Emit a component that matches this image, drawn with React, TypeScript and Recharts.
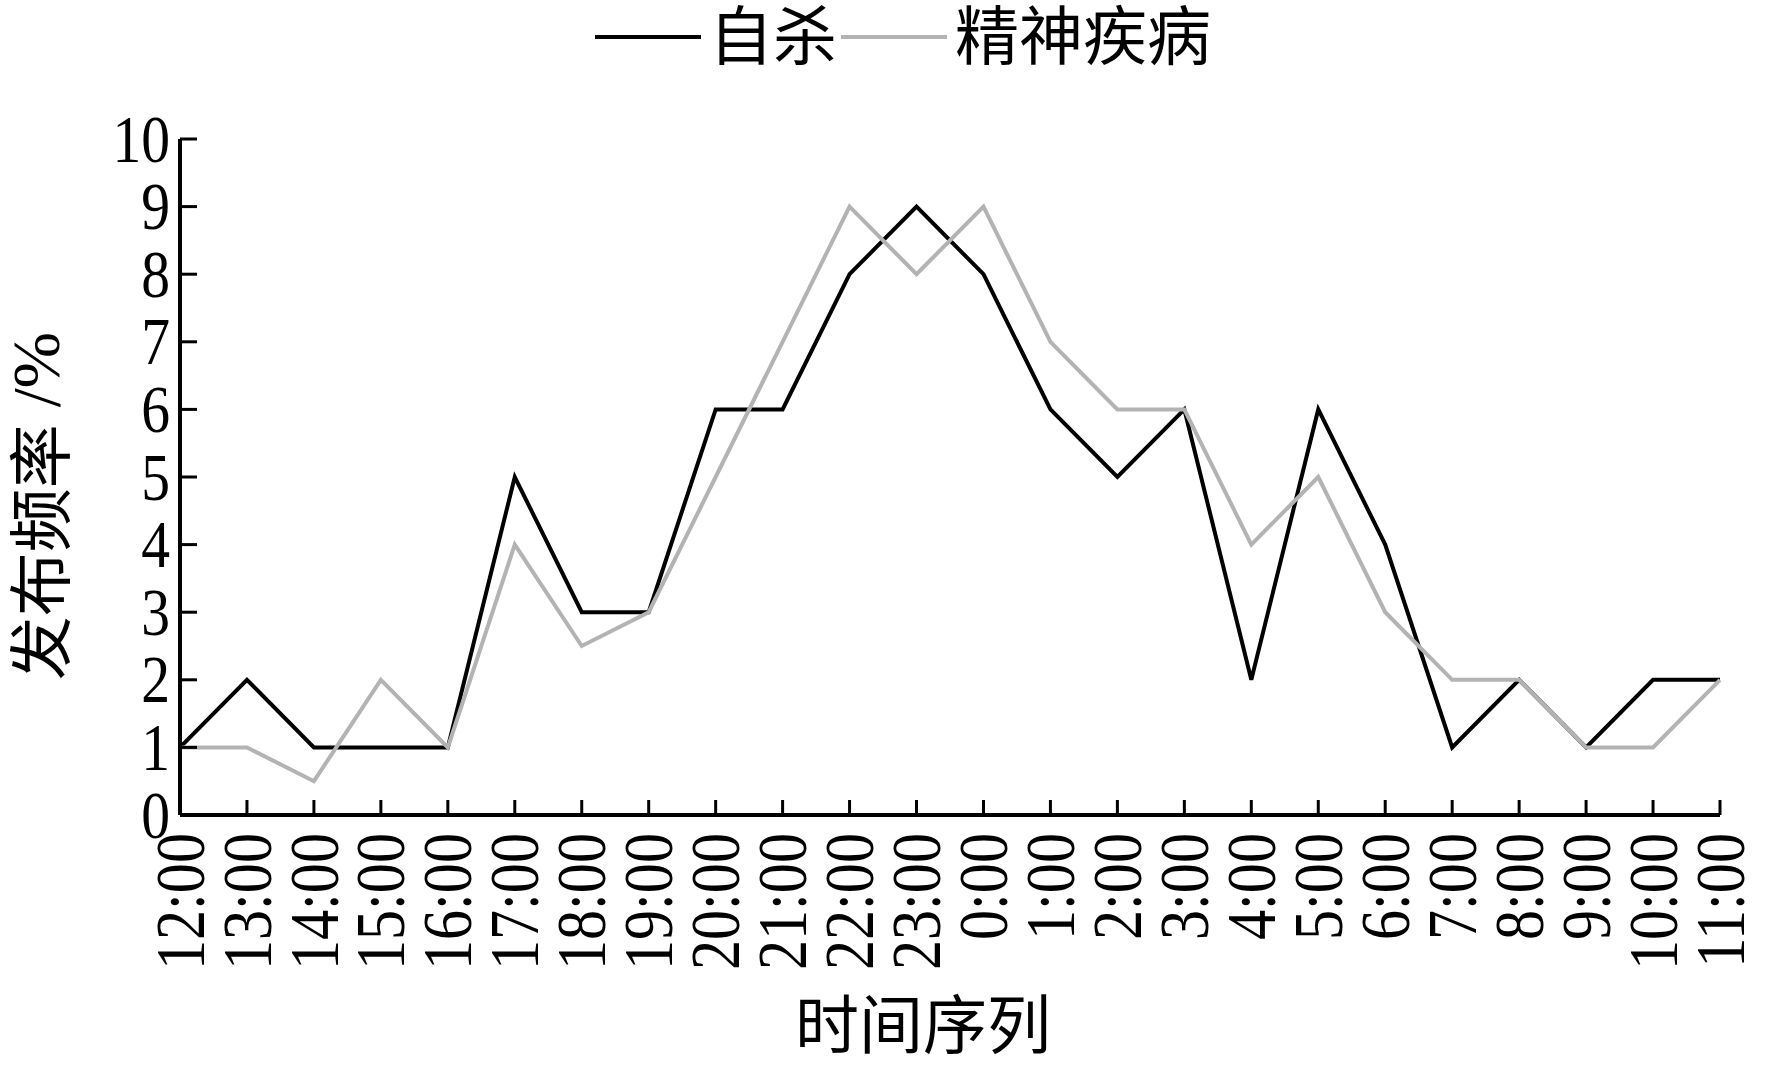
import React from "react";
import { LineChart, Line, XAxis, YAxis, Legend, Label } from "recharts";

// hourly posting frequency (%), 12:00 through 11:00 next day
const hours = [
  "12:00", "13:00", "14:00", "15:00", "16:00", "17:00", "18:00", "19:00",
  "20:00", "21:00", "22:00", "23:00", "0:00", "1:00", "2:00", "3:00",
  "4:00", "5:00", "6:00", "7:00", "8:00", "9:00", "10:00", "11:00",
];
const suicide = [1, 2, 1, 1, 1, 5, 3, 3, 6, 6, 8, 9, 8, 6, 5, 6, 2, 6, 4, 1, 2, 1, 2, 2];
const mental = [1, 1, 0.5, 2, 1, 4, 2.5, 3, 5, 7, 9, 8, 9, 7, 6, 6, 4, 5, 3, 2, 2, 1, 1, 2];
const yTicks = [0, 1, 2, 3, 4, 5, 6, 7, 8, 9, 10];

const suicideName = "自杀";
const mentalName = "精神疾病";
const legendOrder = [suicideName, mentalName];
const xTitle = "时间序列";
const yTitleCjk = "发布频率";
const yTitleUnit = " /%";

const data = hours.map((h, i) => ({ hour: h, suicide: suicide[i], mental: mental[i] }));

const SERIF = '"Liberation Serif", serif';
const CJK = '"Noto Sans CJK SC", sans-serif';
const GRAY = "#b3b3b3";

const XTick = ({ x, y, payload }: any) => (
  <text
    transform={`translate(${x},${y}) rotate(-90) scale(0.86,1)`}
    textAnchor="end"
    dominantBaseline="central"
    fontSize={70}
    fontFamily={SERIF}
    fill="#000"
  >
    {payload.value}
  </text>
);

const YTick = ({ x, y, payload }: any) => (
  <text
    transform={`translate(${x},${y}) scale(0.86,1)`}
    textAnchor="end"
    dominantBaseline="central"
    fontSize={67}
    fontFamily={SERIF}
    fill="#000"
  >
    {payload.value}
  </text>
);

const XTitle = ({ viewBox }: any) => (
  <text
    x={viewBox.x + viewBox.width / 2 - 27}
    y={viewBox.y + viewBox.height - 21}
    textAnchor="middle"
    fontSize={64}
    fontFamily={CJK}
    fill="#000"
  >
    {xTitle}
  </text>
);

const YTitle = ({ viewBox }: any) => {
  const cy = viewBox.y + viewBox.height / 2 + 29;
  return (
    <text
      transform={`translate(36,${cy}) rotate(-90)`}
      textAnchor="middle"
      dominantBaseline="central"
      fontSize={64}
      fill="#000"
    >
      <tspan fontFamily={CJK}>{yTitleCjk}</tspan>
      <tspan fontFamily={SERIF} fontSize={68}>{yTitleUnit}</tspan>
    </text>
  );
};

const LegendContent = ({ payload }: any) => {
  const items = [...(payload || [])].sort(
    (a: any, b: any) => legendOrder.indexOf(a.value) - legendOrder.indexOf(b.value)
  );
  return (
    <div style={{ display: "flex", alignItems: "flex-start", height: 80, paddingLeft: 595 }}>
      {items.map((item: any) => (
        <div key={item.value} style={{ display: "flex", alignItems: "flex-start", marginRight: 4 }}>
          <svg width={106} height={80}>
            <line x1={0} x2={106} y1={37} y2={37} stroke={item.color} strokeWidth={4} />
          </svg>
          <span
            style={{
              marginLeft: 8,
              fontSize: 64,
              fontFamily: CJK,
              lineHeight: "80px",
              position: "relative",
              top: -9,
              color: "#000",
              whiteSpace: "nowrap",
            }}
          >
            {item.value}
          </span>
        </div>
      ))}
    </div>
  );
};

export default function App() {
  return (
    <div style={{ position: "absolute", left: 0, top: 0, background: "#fff" }}>
      <LineChart
        width={1766}
        height={1069}
        data={data}
        margin={{ top: 59, right: 46, bottom: 0, left: 0 }}
      >
        <Legend
          verticalAlign="top"
          content={<LegendContent />}
          wrapperStyle={{ top: 0, left: 0, width: 1766, height: 80, margin: 0 }}
        />
        <XAxis
          dataKey="hour"
          scale="point"
          padding={{ left: 0, right: 0 }}
          interval={0}
          height={254}
          tickSize={-15}
          tickMargin={33}
          tick={<XTick />}
          axisLine={{ stroke: "#000", strokeWidth: 4 }}
          tickLine={{ stroke: "#000", strokeWidth: 3 }}
        >
          <Label content={<XTitle />} />
        </XAxis>
        <YAxis
          type="number"
          domain={[0, 10]}
          ticks={yTicks}
          width={180}
          tickSize={-17}
          tickMargin={27}
          tick={<YTick />}
          axisLine={{ stroke: "#000", strokeWidth: 4 }}
          tickLine={{ stroke: "#000", strokeWidth: 3 }}
        >
          <Label content={<YTitle />} />
        </YAxis>
        <Line
          dataKey="suicide"
          name={suicideName}
          type="linear"
          stroke="#000"
          strokeWidth={4}
          dot={false}
          activeDot={false}
          isAnimationActive={false}
        />
        <Line
          dataKey="mental"
          name={mentalName}
          type="linear"
          stroke={GRAY}
          strokeWidth={4}
          dot={false}
          activeDot={false}
          isAnimationActive={false}
        />
      </LineChart>
    </div>
  );
}
